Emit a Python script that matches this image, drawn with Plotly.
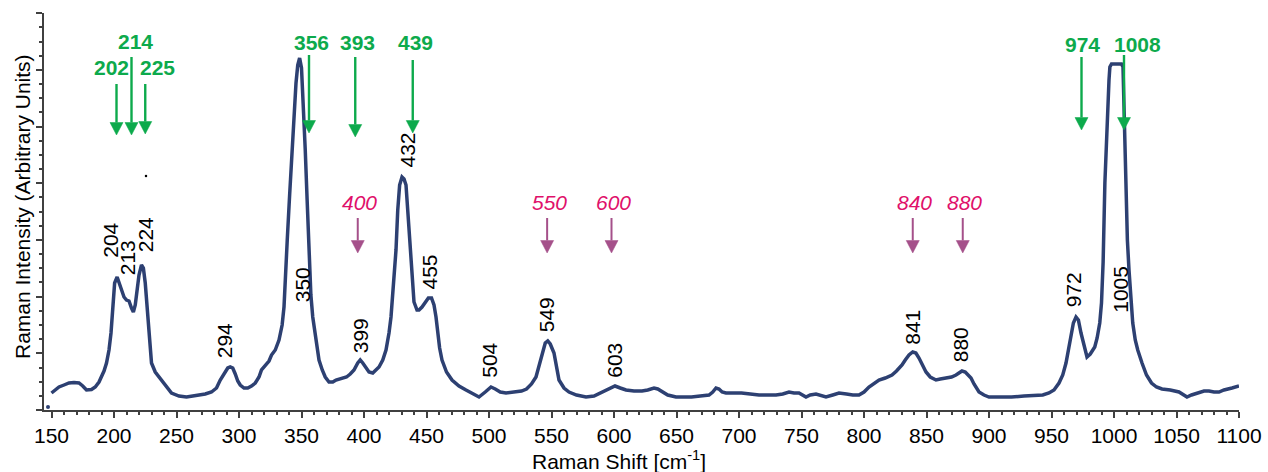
import plotly.graph_objects as go

# ---------------- data ----------------
raman_shift = [150, 153, 156, 160, 164, 168, 172, 175, 178, 182, 185, 188, 190, 192, 194, 196, 197.6, 199,
               200.5, 202.5, 205, 208, 210, 212, 214, 215.5, 217, 218.5, 220, 222, 223.5, 225, 226, 227,
               228.5, 230, 233, 236, 240, 246, 252, 258, 263, 268, 273, 278, 282, 285, 288, 291, 293, 295,
               297, 299, 301, 304, 307, 310, 313, 316, 318, 321, 324, 326, 329, 332, 334.5, 336, 337.5,
               338.6, 340.5, 342.4, 344, 345.6, 347, 348.5, 350, 351.5, 353, 354.5, 356, 357.5, 359, 361.6,
               364, 366.6, 369, 372, 375, 377.6, 382, 386, 389, 392, 395, 397, 399, 401.6, 404, 407, 410,
               412, 415, 417.6, 420, 421.6, 423.5, 425.6, 427, 428.5, 430.4, 432, 433.6, 435, 436, 438.4,
               440, 442.4, 444, 446.4, 449, 451.5, 454, 456, 457.6, 459, 460.5, 462.4, 466, 470.4, 476,
               481.6, 487, 492, 497, 501.6, 505, 509, 513.6, 520, 526, 530, 534, 537.6, 540, 542.4, 545,
               547, 549, 552, 554, 556, 560, 564, 570, 577.6, 584, 590.4, 596, 600.8, 605, 609.6, 616,
               622.4, 627, 632, 635, 638.4, 643, 649.6, 656, 662, 669, 676, 679, 681.6, 684, 686.5, 689.6,
               695, 702, 709, 716, 723, 729.6, 735, 740, 744, 748, 753.6, 757, 761.6, 765, 769.6, 775, 780,
               786, 791, 796, 800, 804, 808, 812, 817, 822.4, 826, 830.4, 833, 836, 839, 841.5, 844, 846.5,
               849.6, 853, 857.6, 861, 865.6, 870, 873.6, 876, 878.4, 881, 883, 885.6, 888, 892, 896, 900,
               909, 918, 928, 937.6, 943, 948, 952, 956, 959, 961.6, 963.5, 965.6, 967.5, 969.6, 971.5,
               973.6, 976, 978.4, 981, 984.6, 986.5, 988.6, 990, 991.3, 992.7, 994.5, 996, 996.7, 998,
               1000, 1003, 1006, 1007.2, 1008.5, 1009.4, 1010.7, 1012, 1013.5, 1015, 1017, 1019, 1022.4,
               1026, 1030, 1034, 1038.4, 1045, 1052, 1055, 1058.4, 1062, 1068, 1072, 1076, 1080, 1084,
               1088, 1094.4, 1100]
intensity = [17, 20, 23, 25, 27, 27.5, 27, 24, 20, 20.5, 23, 28, 33, 39, 47, 60, 77, 105,
             127, 133, 125, 113, 110, 109, 102, 98, 105, 120, 135, 145, 142, 127, 110, 87,
             65, 47, 38, 33, 26, 17, 14, 13, 14, 15, 16, 18, 22, 30, 36, 42, 43, 42,
             36, 29, 25, 22, 22, 24, 27, 33, 40, 44, 49, 55, 60, 70, 85, 103, 135,
             170, 215, 260, 298, 327, 345, 352, 342, 305, 260, 210, 150, 115, 93, 67,
             50, 40, 33, 28, 28, 30, 32, 33, 36, 40, 47, 50, 47, 42, 38, 37, 40,
             43, 50, 60, 77, 93, 125, 160, 200, 225, 233, 231, 225, 200, 177, 127,
             108, 100, 100, 103, 108, 112, 112, 105, 93, 75, 62, 50, 38, 30, 24,
             20, 16, 13, 18, 23, 21, 18, 17, 18, 19, 21, 26, 33, 44, 57, 67,
             69, 66, 57, 42, 30, 22, 18, 15, 13, 14, 18, 21, 24, 22, 20, 19,
             19, 20, 22, 21, 18, 15, 13, 13, 13, 14, 15, 18, 22, 21, 18, 17,
             17, 17, 16, 15, 15, 15, 16, 18, 17, 17, 13, 15, 16, 15, 13, 15, 17,
             16, 15, 15, 18, 23, 27, 30, 32, 35, 39, 45, 50, 55, 58, 57, 52, 45,
             38, 33, 30, 31, 32, 33, 35, 37, 39, 38, 35, 32, 26, 18, 15, 13,
             13, 13, 14, 15, 15, 17, 20, 27, 35, 47, 60, 73, 87, 93, 90,
             77, 63, 53, 56, 63, 72, 87, 107, 148, 227, 293, 330, 343, 346,
             346, 346, 346, 343, 280, 210, 170, 140, 110, 87, 70, 60, 47,
             35, 27, 23, 21, 20, 18, 16, 13, 15, 17, 19, 19, 18, 18,
             20, 22, 24]
# stray points visible in the picture
stray_shift = [147.2]
stray_intensity = [3]
speck_shift = [225.6]
speck_intensity = [234]

peak_labels = ["204", "213", "224", "294", "350", "399", "432", "455", "504", "549", "603", "841", "880", "972", "1005"]
peak_label_x = [196.6, 211, 225.4, 288.6, 351, 397.4, 434.4, 452, 500.2, 545.8, 599.8, 838.6, 877, 967.8, 1005]
peak_label_y = [170, 152.5, 175.5, 69.5, 125.5, 74.5, 259.5, 137.5, 49.5, 95, 50, 82.5, 65, 120.5, 120.5]

green_bands = [202, 214, 225, 356, 393, 439, 974, 1008]
pink_bands = [400, 550, 600, 840, 880]
pink_arrow_x = [395, 546.5, 598, 839, 879]

x_ticks = list(range(150, 1101, 50))

# ---------------- layout constants ----------------
W, H = 1268, 472
ML, MR, MT, MB = 44, 29, 13, 62
X0, X1 = 144, 1100
Y0, Y1 = 0, 397
PX_PER_X = (W - ML - MR) / (X1 - X0)
PX_PER_Y = (H - MT - MB) / (Y1 - Y0)
FONT = "Liberation Sans, Arial, sans-serif"
NAVY = "#2D4072"
GREEN = "#0DAA4C"
PINK_TXT = "#E0106A"
PINK_ARR = "#A5508A"
AXIS = "#404040"


def ypix(p):
    """pixel row -> y data value"""
    return (H - MB - p) / PX_PER_Y


# green arrows: top / tip rows (px), text dx (px), text row (px)
green_top = [84, 57, 84, 55, 57, 60, 57, 55]
green_tip = [135, 135, 134, 133, 137, 133, 130, 130]
green_dx = [-5, 4, 12.5, 2.5, 2.5, 2.5, 1, 13.5]
green_ty = [67, 41, 67, 42, 42, 42, 44, 44]

fig = go.Figure()
fig.add_trace(go.Scatter(x=raman_shift, y=intensity, mode="lines",
                         line=dict(color=NAVY, width=3.5), hoverinfo="skip", showlegend=False))
fig.add_trace(go.Scatter(x=stray_shift, y=stray_intensity, mode="markers",
                         marker=dict(color=NAVY, size=4), showlegend=False))
fig.add_trace(go.Scatter(x=speck_shift, y=speck_intensity, mode="markers",
                         marker=dict(color="black", size=2.5), showlegend=False))

shapes = []
annotations = []


def add_arrow(xv, top_px, tip_px, color, lw, hw_px=6.5, hh_px=12.5):
    hw = hw_px / PX_PER_X
    base = ypix(tip_px - hh_px)
    shapes.append(dict(type="line", xref="x", yref="y", x0=xv, x1=xv,
                       y0=ypix(top_px), y1=base, line=dict(color=color, width=lw)))
    shapes.append(dict(type="path", xref="x", yref="y",
                       path=f"M {xv - hw} {base} L {xv + hw} {base} L {xv} {ypix(tip_px)} Z",
                       fillcolor=color, line=dict(color=color, width=0.5)))


for b, t, tp, dx, ty in zip(green_bands, green_top, green_tip, green_dx, green_ty):
    add_arrow(b, t, tp, GREEN, 2.4)
    annotations.append(dict(x=b, y=ypix(ty), xref="x", yref="y", text=f"<b>{b}</b>",
                            showarrow=False, xshift=dx, xanchor="center", yanchor="middle",
                            font=dict(family=FONT, size=21, color=GREEN)))

for b, ax in zip(pink_bands, pink_arrow_x):
    add_arrow(ax, 218, 253, PINK_ARR, 2.0)
    annotations.append(dict(x=ax, y=ypix(202.5), xref="x", yref="y", text=f"<i>{b}</i>",
                            showarrow=False, xshift=2, xanchor="center", yanchor="middle",
                            font=dict(family=FONT, size=21, color=PINK_TXT)))

for lab, lx, ly in zip(peak_labels, peak_label_x, peak_label_y):
    annotations.append(dict(x=lx, y=ly, xref="x", yref="y", text=lab, textangle=-90,
                            showarrow=False, xanchor="center", yanchor="middle",
                            font=dict(family=FONT, size=21, color="black")))

# axis titles
annotations.append(dict(x=(618.5 - ML) / (W - ML - MR), y=(H - MB - 460) / (H - MT - MB),
                        xref="paper", yref="paper", text="Raman Shift [cm<sup>-1</sup>]",
                        showarrow=False, xanchor="center", yanchor="middle",
                        font=dict(family=FONT, size=21, color="black")))
annotations.append(dict(x=(22 - ML) / (W - ML - MR), y=(H - MB - 207) / (H - MT - MB),
                        xref="paper", yref="paper", text="Raman Intensity (Arbitrary Units)",
                        textangle=-90, showarrow=False, xanchor="center", yanchor="middle",
                        font=dict(family=FONT, size=21, color="black")))

fig.update_layout(
    width=W, height=H, margin=dict(l=ML, r=MR, t=MT, b=MB),
    paper_bgcolor="white", plot_bgcolor="white",
    shapes=shapes, annotations=annotations, showlegend=False,
    xaxis=dict(range=[X0, X1], showgrid=False, zeroline=False, showline=True, automargin=False,
               linecolor=AXIS, linewidth=2, ticks="outside", ticklen=6, tickwidth=2,
               tickcolor=AXIS, tickvals=x_ticks, ticktext=[str(v) for v in x_ticks],
               tickfont=dict(family=FONT, size=21, color="black"),
               minor=dict(dtick=10, tick0=150, ticks="outside", ticklen=3, tickwidth=2,
                          tickcolor=AXIS, showgrid=False)),
    yaxis=dict(range=[Y0, Y1], showgrid=False, zeroline=False, showline=True, automargin=False,
               linecolor=AXIS, linewidth=2, ticks="outside", ticklen=6, tickwidth=2,
               tickcolor=AXIS, tick0=0, dtick=56.67, showticklabels=False,
               minor=dict(dtick=14.1675, tick0=0, ticks="outside", ticklen=3, tickwidth=2,
                          tickcolor=AXIS, showgrid=False)),
)

fig.write_html("out.html", config={"displayModeBar": False},
               post_script="document.body.style.margin='0';document.body.style.overflow='hidden';")
